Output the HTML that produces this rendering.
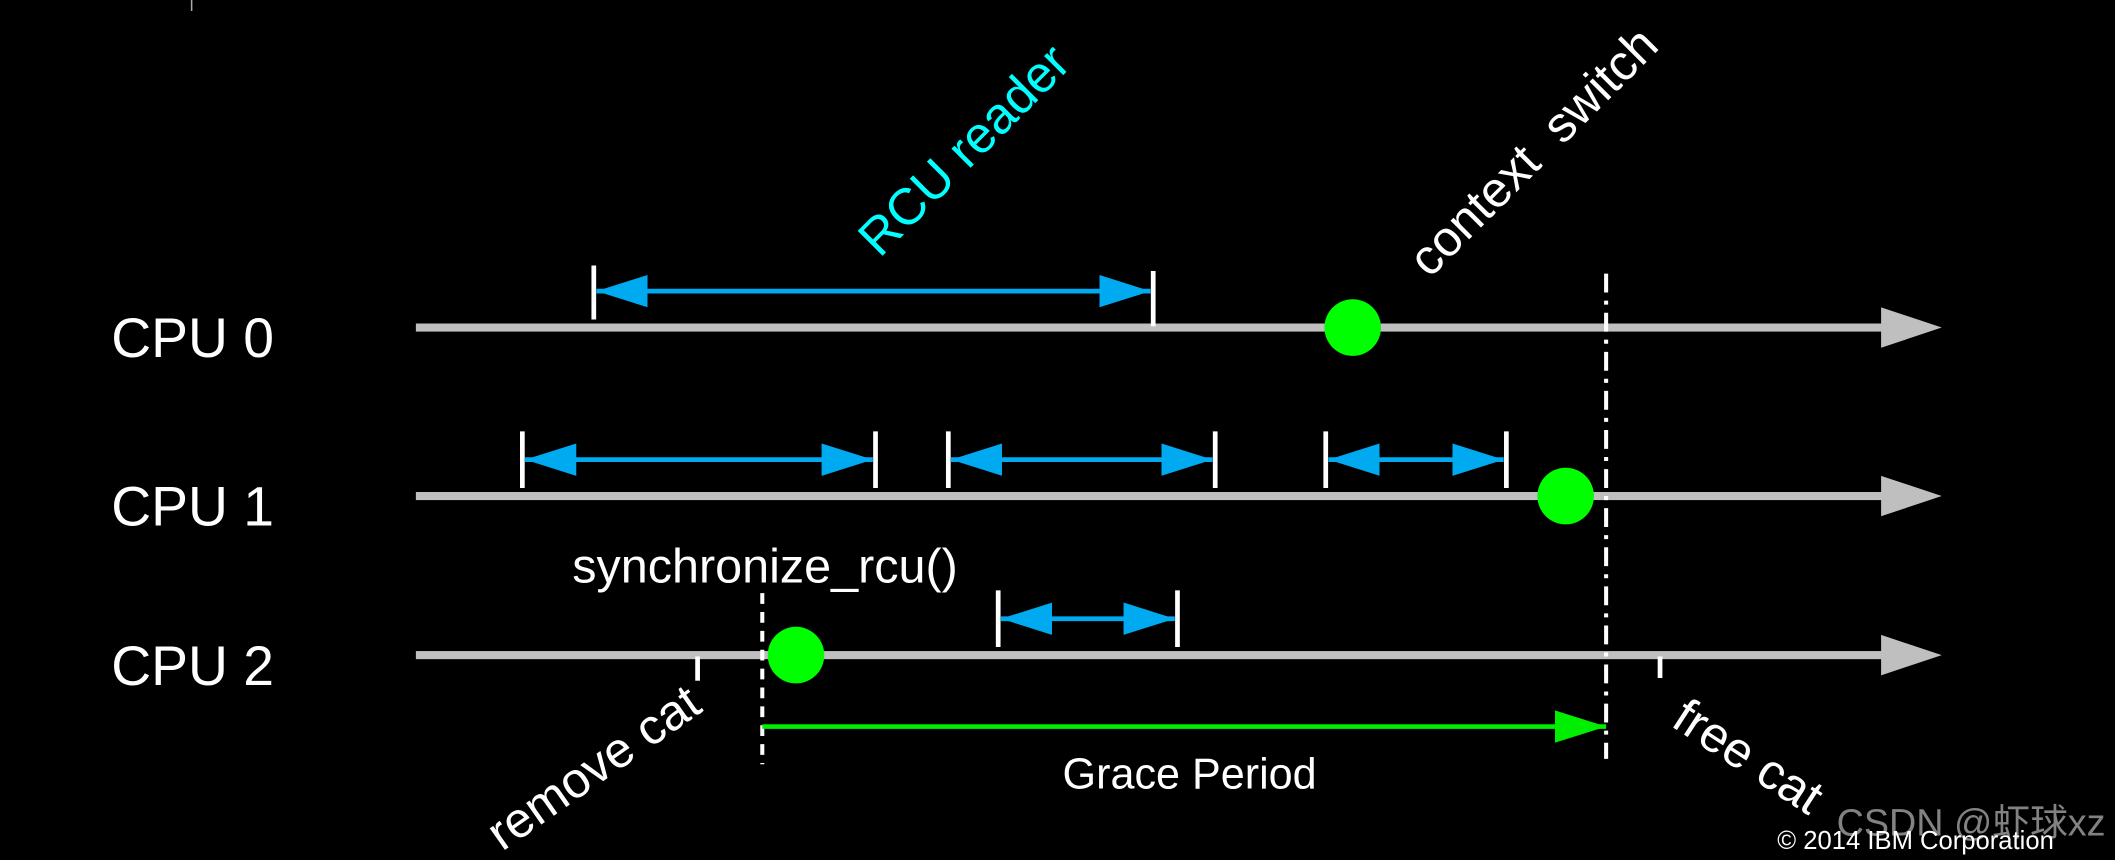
<!DOCTYPE html>
<html><head><meta charset="utf-8"><style>
html,body{margin:0;padding:0;background:#000;}
svg{display:block;}
text{font-family:"Liberation Sans","Noto Sans CJK SC",sans-serif;}
</style></head><body>
<svg width="2115" height="860" viewBox="0 0 1568 638" xmlns="http://www.w3.org/2000/svg">
<rect width="1568" height="638" fill="#000"/>
<defs>
<marker id="bh" markerWidth="38" markerHeight="24" refX="38" refY="12" orient="auto-start-reverse" markerUnits="userSpaceOnUse"><path d="M0,0 L38,12 L0,24 Z" fill="#00aaf0"/></marker>
<marker id="gh" markerWidth="38" markerHeight="24" refX="38" refY="12" orient="auto" markerUnits="userSpaceOnUse"><path d="M0,0 L38,12 L0,24 Z" fill="#00ee00"/></marker>
</defs>
<text x="140" y="8" fill="#aaa" font-size="12">I</text>
<g fill="#bfbfbf">
<rect x="308" y="240" width="1090" height="6"/><path d="M1395,228 L1440,243 L1395,258 Z"/>
<rect x="308" y="365" width="1090" height="6"/><path d="M1395,353 L1440,368 L1395,383 Z"/>
<rect x="308" y="483" width="1090" height="6"/><path d="M1395,471 L1440,486 L1395,501 Z"/>
</g>
<g fill="#fff" font-size="41">
<text x="82" y="265">CPU 0</text><text x="82" y="390">CPU 1</text><text x="82" y="508">CPU 2</text>
</g>
<g stroke="#00aaf0" stroke-width="3.5" marker-start="url(#bh)" marker-end="url(#bh)">
<line x1="442" y1="216" x2="853" y2="216"/>
<line x1="389" y1="341" x2="647" y2="341"/>
<line x1="705" y1="341" x2="899" y2="341"/>
<line x1="985" y1="341" x2="1115" y2="341"/>
<line x1="742" y1="459" x2="871" y2="459"/>
</g>
<g stroke="#fff" stroke-width="3.5">
<line x1="440" y1="197" x2="440" y2="237"/><line x1="855" y1="201" x2="855" y2="242"/>
<line x1="387" y1="320" x2="387" y2="362"/><line x1="649" y1="320" x2="649" y2="362"/>
<line x1="703" y1="320" x2="703" y2="362"/><line x1="901" y1="320" x2="901" y2="362"/>
<line x1="983" y1="320" x2="983" y2="362"/><line x1="1117" y1="320" x2="1117" y2="362"/>
<line x1="740" y1="438" x2="740" y2="480"/><line x1="873" y1="438" x2="873" y2="480"/>
<line x1="517" y1="487" x2="517" y2="505"/><line x1="1231" y1="487" x2="1231" y2="503"/>
<line x1="1191" y1="203" x2="1191" y2="563" stroke-width="3" stroke-dasharray="14,6,3,6"/>
<line x1="565" y1="440" x2="565" y2="567" stroke-width="3" stroke-dasharray="8,6"/>
</g>
<g fill="#00ff00"><circle cx="1003" cy="243" r="21"/><circle cx="1161" cy="368" r="21"/><circle cx="590" cy="486" r="21"/></g>
<line x1="565" y1="539" x2="1191" y2="539" stroke="#00ee00" stroke-width="3.5" marker-end="url(#gh)"/>
<text x="882" y="585" fill="#fff" font-size="32" text-anchor="middle">Grace Period</text>
<text x="424" y="432" fill="#fff" font-size="36">synchronize_rcu()</text>
<text transform="translate(652,192) rotate(-45)" fill="#00ffff" font-size="38">RCU reader</text>
<text transform="translate(1060,207) rotate(-45)" fill="#fff" font-size="37">context&#160; switch</text>
<text transform="translate(372,632) rotate(-35)" fill="#fff" font-size="37">remove cat</text>
<text transform="translate(1238,538) rotate(33)" fill="#fff" font-size="37">free cat</text>
<text x="1362" y="620" fill="#999" fill-opacity="0.85" font-size="28">CSDN @虾球xz</text>
<text x="1318" y="630" fill="#fff" font-size="19">© 2014 IBM Corporation</text>
</svg>
</body></html>
